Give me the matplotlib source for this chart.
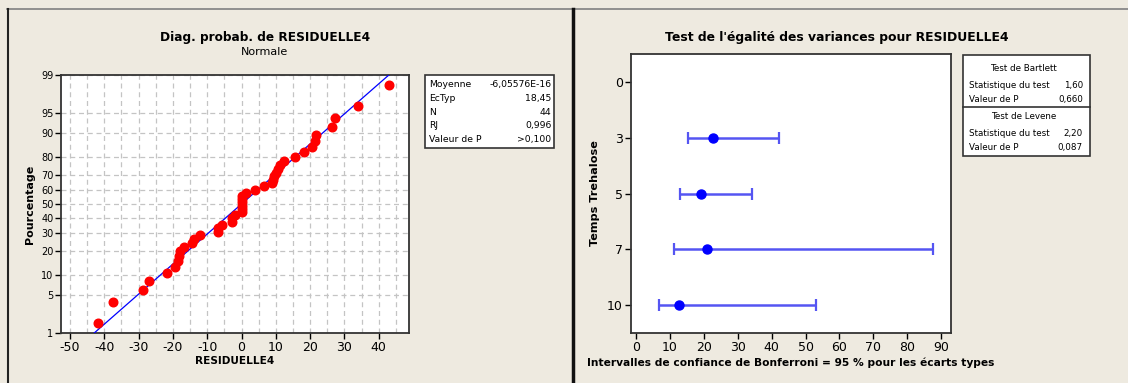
import matplotlib
matplotlib.use("Agg")
import matplotlib.pyplot as plt
from matplotlib.lines import Line2D
from matplotlib.patches import Rectangle
from statistics import NormalDist

# ---------------- data ----------------
residuals = [-41.8, -37.4, -28.8, -27.1, -21.8, -19.4, -18.6, -18.2, -17.8, -16.8,
             -14.3, -13.9, -12.0, -6.9, -6.9, -5.8, -2.9, -2.9, -1.8, 0.0,
             0.0, 0.0, 0.0, 0.0, 0.2, 1.3, 3.9, 6.5, 9.0, 9.1,
             9.5, 10.0, 10.5, 11.2, 12.3, 15.5, 18.1, 20.6, 21.5, 21.7,
             26.3, 27.2, 33.9, 43.1]
fit_mean = -6.05576e-16
fit_sd = 18.45
pct_ticks = [1, 5, 10, 20, 30, 40, 50, 60, 70, 80, 90, 95, 99]
x_ticks_left = [-50, -40, -30, -20, -10, 0, 10, 20, 30, 40]
stats_labels = ["Moyenne", "EcTyp", "N", "RJ", "Valeur de P"]
stats_values = ["-6,05576E-16", "18,45", "44", "0,996", ">0,100"]

groups = ["0", "3", "5", "7", "10"]
sd_est = [None, 22.7, 19.2, 21.0, 12.6]
ci_low = [None, 15.2, 13.1, 11.2, 6.9]
ci_high = [None, 42.3, 34.3, 87.6, 53.2]
x_ticks_right = [0, 10, 20, 30, 40, 50, 60, 70, 80, 90]
bartlett = [("Statistique du test", "1,60"), ("Valeur de P", "0,660")]
levene = [("Statistique du test", "2,20"), ("Valeur de P", "0,087")]

# ---------------- figure ----------------
W, H = 1128, 383
BG = "#EEEAE0"
fig = plt.figure(figsize=(W / 100, H / 100), dpi=100, facecolor=BG)
plt.rcParams['font.family'] = ['DejaVu Sans']

def fx(px):
    return px / W

def fy(py):
    return 1 - py / H

# panel borders
fig.add_artist(Line2D([fx(7), fx(W)], [fy(8.5), fy(8.5)], color="#808080", lw=1.2))
fig.add_artist(Line2D([fx(7.5), fx(7.5)], [fy(8.5), 0], color="#222222", lw=1.5))
fig.add_artist(Line2D([fx(573), fx(573)], [fy(8.5), 0], color="#111111", lw=2.5))

nd = NormalDist()

# ---------------- left: normal probability plot ----------------
axL = fig.add_axes([fx(61), fy(333), fx(409 - 61), (333 - 75) / H])
axL.set_facecolor("white")
n = len(residuals)
srt = sorted(residuals)
z_pts = [nd.inv_cdf((i + 1 - 0.3) / (n + 0.4)) for i in range(n)]
z_lo, z_hi = nd.inv_cdf(0.01), nd.inv_cdf(0.99)
axL.plot([fit_mean + z_lo * fit_sd, fit_mean + z_hi * fit_sd], [z_lo, z_hi],
         color="#0000FF", lw=0.9, zorder=3)
axL.plot(srt, z_pts, 'o', color="#FF0000", ms=6.2, mec="#FF0000", zorder=4)
axL.set_xlim(-52.6, 48.8)
axL.set_ylim(z_lo, z_hi)
axL.set_yticks([nd.inv_cdf(p / 100) for p in pct_ticks])
axL.set_yticklabels([str(p) for p in pct_ticks], fontsize=7)
axL.set_xticks(x_ticks_left)
axL.set_xticklabels([str(v) for v in x_ticks_left], fontsize=9)
for v in range(-50, 50, 5):
    axL.axvline(v, color="#C4C4C4", lw=0.9, ls=(0, (4, 3)), zorder=1)
for p in pct_ticks:
    axL.axhline(nd.inv_cdf(p / 100), color="#C4C4C4", lw=0.9, ls=(0, (4, 3)), zorder=1)
for s in axL.spines.values():
    s.set_color("#333333")
    s.set_linewidth(1.3)
axL.tick_params(length=4, width=1, pad=1.5, colors="black")
axL.set_xlabel("RESIDUELLE4", fontsize=7.6, fontweight="bold", labelpad=2)
fig.text(fx(30), fy(204), "Pourcentage", rotation=90, fontsize=8,
         fontweight="bold", ha="center", va="center")
fig.text(fx(265), fy(37), "Diag. probab. de RESIDUELLE4", fontsize=8.7,
         fontweight="bold", ha="center", va="center")
fig.text(fx(265), fy(52), "Normale", fontsize=8, ha="center", va="center")

# stats box left
fig.add_artist(Rectangle((fx(425), fy(148)), fx(554 - 425), (148 - 75.5) / H,
                         facecolor="white", edgecolor="#333333", lw=1.2))
for k, (lab, val) in enumerate(zip(stats_labels, stats_values)):
    yy = 84.5 + k * 13.8
    fig.text(fx(429.5), fy(yy), lab, fontsize=6.7, ha="left", va="center")
    fig.text(fx(551.5), fy(yy), val, fontsize=6.7, ha="right", va="center")

# ---------------- right: equality of variances ----------------
axR = fig.add_axes([fx(631), fy(333), fx(951 - 631), (333 - 54) / H])
axR.set_facecolor("white")
ypos = list(range(len(groups)))
for i, g in enumerate(groups):
    if sd_est[i] is None:
        continue
    axR.errorbar([sd_est[i]], [i],
                 xerr=[[sd_est[i] - ci_low[i]], [ci_high[i] - sd_est[i]]],
                 fmt='none', ecolor="#5555F2", elinewidth=1.8, capsize=4.5,
                 capthick=1.6, zorder=2)
    axR.plot([sd_est[i]], [i], 'o', color="#0000FF", ms=6.5, zorder=3)
axR.set_ylim(len(groups) - 0.5, -0.5)
axR.set_yticks(ypos)
axR.set_yticklabels(groups, fontsize=9)
axR.set_xlim(-1.5, 92.9)
axR.set_xticks(x_ticks_right)
axR.set_xticklabels([str(v) for v in x_ticks_right], fontsize=9)
for s in axR.spines.values():
    s.set_color("#333333")
    s.set_linewidth(1.3)
axR.tick_params(length=4, width=1, pad=2, colors="black")
axR.set_xlabel("Intervalles de confiance de Bonferroni = 95 % pour les écarts types",
               fontsize=7.7, fontweight="bold", labelpad=2)
fig.text(fx(595), fy(193), "Temps Trehalose", rotation=90, fontsize=8.1,
         fontweight="bold", ha="center", va="center")
fig.text(fx(837), fy(37), "Test de l'égalité des variances pour RESIDUELLE4",
         fontsize=8.9, fontweight="bold", ha="center", va="center")

# stats box right
fig.add_artist(Rectangle((fx(963), fy(156)), fx(1090 - 963), (156 - 54.5) / H,
                         facecolor="white", edgecolor="#333333", lw=1.2))
fig.add_artist(Line2D([fx(963), fx(1090)], [fy(106.7), fy(106.7)],
                      color="#333333", lw=1.2))
fig.text(fx(1023), fy(68.5), "Test de Bartlett", fontsize=6.3, ha="center", va="center")
for k, (lab, val) in enumerate(bartlett):
    yy = 85.5 + k * 14
    fig.text(fx(969), fy(yy), lab, fontsize=6.3, ha="left", va="center")
    fig.text(fx(1083), fy(yy), val, fontsize=6.3, ha="right", va="center")
fig.text(fx(1024), fy(116.5), "Test de Levene", fontsize=6.3, ha="center", va="center")
for k, (lab, val) in enumerate(levene):
    yy = 133.5 + k * 14
    fig.text(fx(969), fy(yy), lab, fontsize=6.3, ha="left", va="center")
    fig.text(fx(1083), fy(yy), val, fontsize=6.3, ha="right", va="center")

fig.savefig("out.png", dpi=100, facecolor=BG)
